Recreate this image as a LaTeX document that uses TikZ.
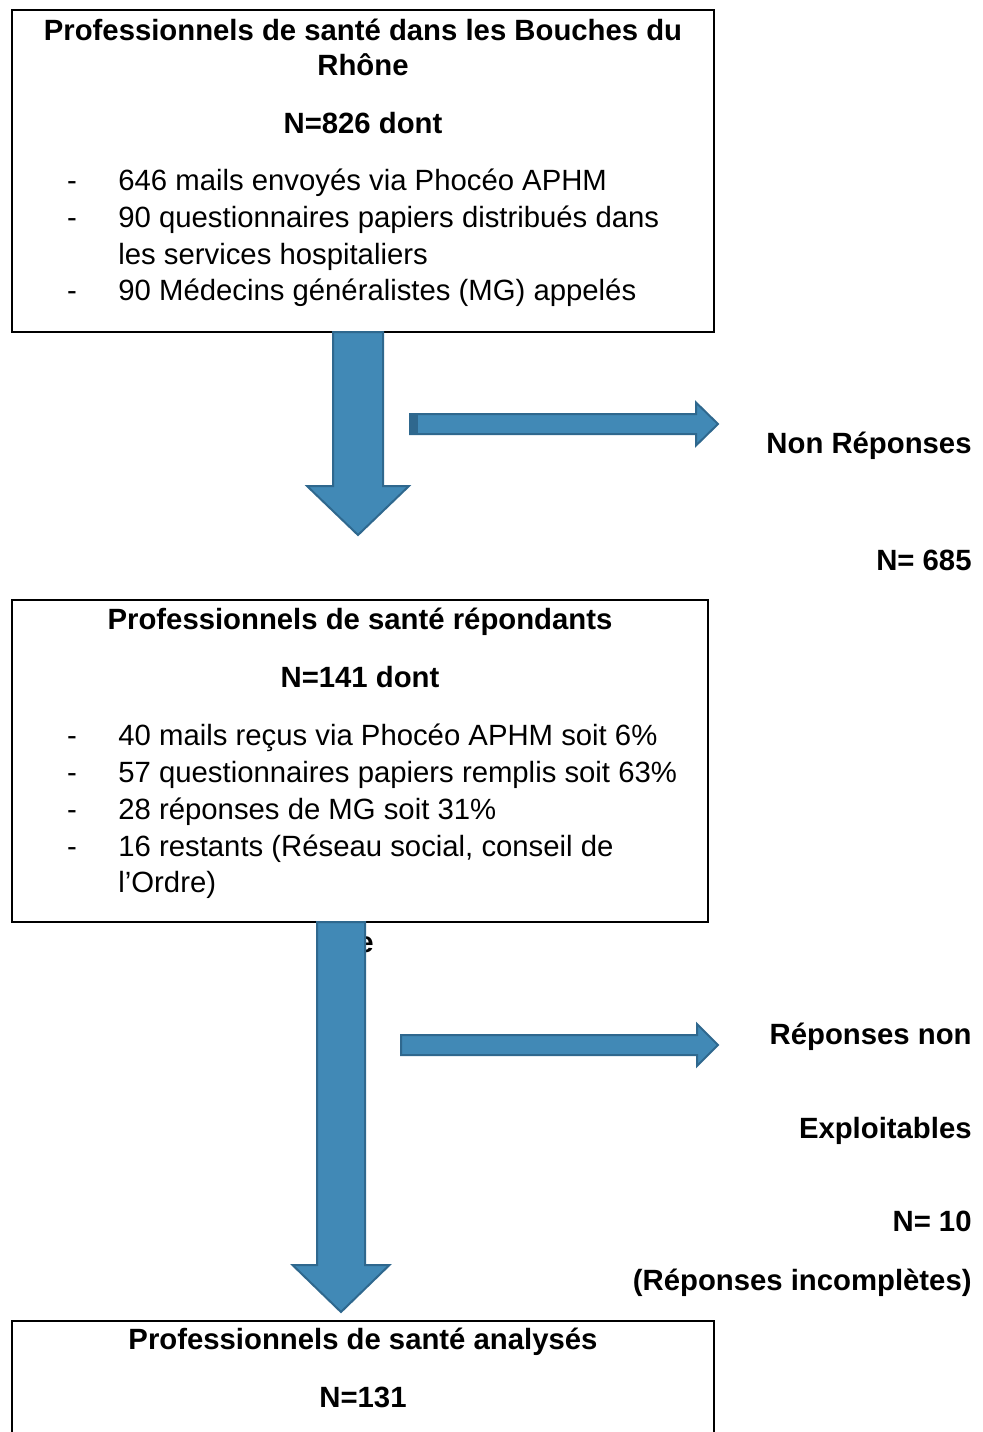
\documentclass[tikz,border=0pt]{standalone}
\usepackage{fontspec}
\setmainfont{Liberation Sans}
\usepackage{tikz}
\usetikzlibrary{calc}
\definecolor{bleufleche}{RGB}{65,137,182}
\definecolor{bordfleche}{RGB}{47,104,142}

% depart, longueur tige, demi tige, demi tete, longueur tete
\newcommand{\flechebas}[5]{%
  \filldraw[fleche] (#1) ++(-#3,0) -- ++(2*#3,0) -- ++(0,#2) -- ++(#4-#3,0)
    -- ++(-#4,#5) -- ++(-#4,-#5) -- ++(#4-#3,0) -- cycle;}
\newcommand{\flechedroite}[5]{%
  \filldraw[fleche] (#1) ++(0,-#3) -- ++(#2,0) -- ++(0,#3-#4) -- ++(#5,#4)
    -- ++(-#5,#4) -- ++(0,#3-#4) -- ++(-#2,0) -- cycle;}

\begin{document}
\begin{tikzpicture}[x=0.5pt, y=-0.5pt,
        cadre/.style={draw, line width=1pt, inner sep=0pt, outer sep=0pt, anchor=north west},
        texte/.style={inner sep=0pt, font=\fontsize{14.65}{17.5}\selectfont},
        titre/.style={texte, font=\fontsize{14.65}{17.5}\selectfont\bfseries, anchor=base},
        fleche/.style={fill=bleufleche, draw=bordfleche, line width=1pt, line join=miter}]
        \clip (0,0) rectangle (983,1432);
        % les cadres
        \node[cadre, minimum width=351pt, minimum height=161pt] (boiteA) at (12,10) {};
        \node[cadre, minimum width=348pt, minimum height=161pt] (boiteB) at (12,600) {};
        \node[cadre, minimum width=351pt, minimum height=70pt] (boiteC) at (12,1321) {};
        % premier cadre
        \node[titre] (titreA) at (363,40) {Professionnels de santé dans les Bouches du};
        \node[titre] (titreAbis) at (363,75) {Rhône};
        \node[titre] (nombreA) at (363,133) {N=826 dont};
        \node[texte, anchor=base] (tiretA1) at (72,190) {-};
        \node[texte, anchor=base] (tiretA2) at (72,227) {-};
        \node[texte, anchor=base] (tiretA3) at (72,300) {-};
        \node[texte, anchor=base west] (ligneA1) at (118,190) {646 mails envoyés via Phocéo APHM};
        \node[texte, anchor=base west] (ligneA2) at (118,227) {90 questionnaires papiers distribués dans};
        \node[texte, anchor=base west] (ligneA3) at (118,264) {les services hospitaliers};
        \node[texte, anchor=base west] (ligneA4) at (118,300) {90 Médecins généralistes (MG) appelés};
        % second cadre
        \node[titre] (titreB) at (360,629) {Professionnels de santé répondants};
        \node[titre] (nombreB) at (360,687) {N=141 dont};
        \node[texte, anchor=base] (tiretB1) at (72,745) {-};
        \node[texte, anchor=base] (tiretB2) at (72,782) {-};
        \node[texte, anchor=base] (tiretB3) at (72,819) {-};
        \node[texte, anchor=base] (tiretB4) at (72,856) {-};
        \node[texte, anchor=base west] (ligneB1) at (118,745) {40 mails reçus via Phocéo APHM soit 6\%};
        \node[texte, anchor=base west] (ligneB2) at (118,782) {57 questionnaires papiers remplis soit 63\%};
        \node[texte, anchor=base west] (ligneB3) at (118,819) {28 réponses de MG soit 31\%};
        \node[texte, anchor=base west] (ligneB4) at (118,856) {16 restants (Réseau social, conseil de};
        \node[texte, anchor=base west] (ligneB5) at (118,892) {l’Ordre)};
        % dernier cadre
        \node[titre] (titreC) at (363,1349) {Professionnels de santé analysés};
        \node[titre] (nombreC) at (363,1407) {N=131};
        % textes de droite
        \node[titre, anchor=base east] (nonrep) at (972,453) {Non Réponses};
        \node[titre, anchor=base east] (nonrepN) at (972,570) {N= 685};
        \node[titre, anchor=base east] (exploitA) at (972,1044) {Réponses non};
        \node[titre, anchor=base east] (exploitB) at (972,1138) {Exploitables};
        \node[titre, anchor=base east] (exploitN) at (972,1231) {N= 10};
        \node[titre, anchor=base east] (exploitC) at (972,1290) {(Réponses incomplètes)};
        \node[titre, anchor=base east] (lettre) at (374,952) {e};
        % les fleches
        \coordinate (departA) at ($(boiteA.south west)+(346,0)$);
        \coordinate (departB) at ($(boiteB.south west)+(329,0)$);
        \coordinate (departC) at (410,424);
        \coordinate (departD) at (401,1045);
        \flechebas{departA}{154}{25}{51}{49}
        \flechebas{departB}{343}{24}{48.5}{47}
        \flechedroite{departC}{286}{10}{21.5}{22}
        \flechedroite{departD}{296}{10}{21}{21}
        \fill[bordfleche] ($(departC)+(0,-10)$) rectangle ($(departC)+(8,10)$);
\end{tikzpicture}
\end{document}
